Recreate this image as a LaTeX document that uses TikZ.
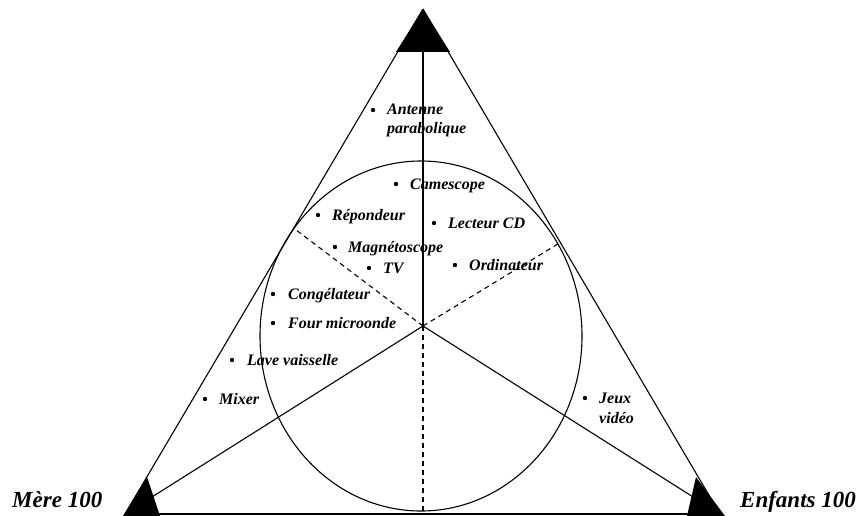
\documentclass[tikz,border=0pt]{standalone}
\usepackage{fontspec}
\setmainfont{Liberation Serif}
\begin{document}
\begin{tikzpicture}[x=1pt,y=-1pt,
  edge/.style={line width=1.1pt},
  dashedge/.style={line width=1.1pt, dash pattern=on 5pt off 4pt},
  marker/.style={fill=black},
  lab/.style={font=\bfseries\itshape\fontsize{16}{19}\selectfont, anchor=base west, inner sep=0pt},
  biglab/.style={font=\bfseries\itshape\fontsize{23}{27}\selectfont, anchor=base west, inner sep=0pt},
  dot/.style={circle, fill=black, inner sep=0pt, minimum size=4.4pt}]
\useasboundingbox (0,0) rectangle (859,516);
% key points
\coordinate (T) at (423,9);
\coordinate (L) at (125,514);
\coordinate (R) at (720,514);
\coordinate (C) at (423,326);
\coordinate (TL) at (293.5,228);
\coordinate (TR) at (559.5,243);
\coordinate (B) at (423,514);
% corner markers
\fill[marker] (T) -- (396,52) -- (450,52) -- cycle;
\fill[marker] (147,477) -- (123,516) -- (160,516) -- cycle;
\fill[marker] (696,477) -- (687,516) -- (725,516) -- cycle;
% outer triangle
\draw[edge] (T) -- (L);
\draw[edge] (T) -- (R);
\draw[edge] (L) -- (R);
% ellipse
\draw[edge] (421,336) ellipse [x radius=161, y radius=175];
% spokes
\draw[edge] (C) -- (T);
\draw[edge] (C) -- (L);
\draw[edge] (C) -- (R);
\draw[dashedge] (C) -- (TL);
\draw[dashedge] (C) -- (TR);
\draw[dashedge] (C) -- (B);
% items
\node[dot] (d1) at (373,110) {};
\node[lab] (antenne) at (387,115) {Antenne};
\node[lab] (parab) at (387,134) {parabolique};
\node[dot] (d2) at (396,184) {};
\node[lab] (cam) at (410,189) {Camescope};
\node[dot] (d3) at (318,215) {};
\node[lab] (rep) at (332,220) {Répondeur};
\node[dot] (d4) at (434,223) {};
\node[lab] (lcd) at (448,228) {Lecteur CD};
\node[dot] (d5) at (335,247) {};
\node[lab] (mag) at (348,252) {Magnétoscope};
\node[dot] (d6) at (369,268) {};
\node[lab] (tv) at (383,273) {TV};
\node[dot] (d7) at (455,265) {};
\node[lab] (ord) at (469,270) {Ordinateur};
\node[dot] (d8) at (273,294) {};
\node[lab] (cong) at (288,299) {Congélateur};
\node[dot] (d9) at (273,323) {};
\node[lab] (four) at (288,328) {Four microonde};
\node[dot] (d10) at (232,360) {};
\node[lab] (lave) at (247,365) {Lave vaisselle};
\node[dot] (d11) at (205,399) {};
\node[lab] (mixer) at (219,404) {Mixer};
\node[dot] (d12) at (585,398) {};
\node[lab] (jeux) at (599,403) {Jeux};
\node[lab] (video) at (599,423) {vidéo};
\node[biglab] (mere) at (12,507) {Mère 100};
\node[biglab] (enf) at (740,507) {Enfants 100};
\end{tikzpicture}
\end{document}
